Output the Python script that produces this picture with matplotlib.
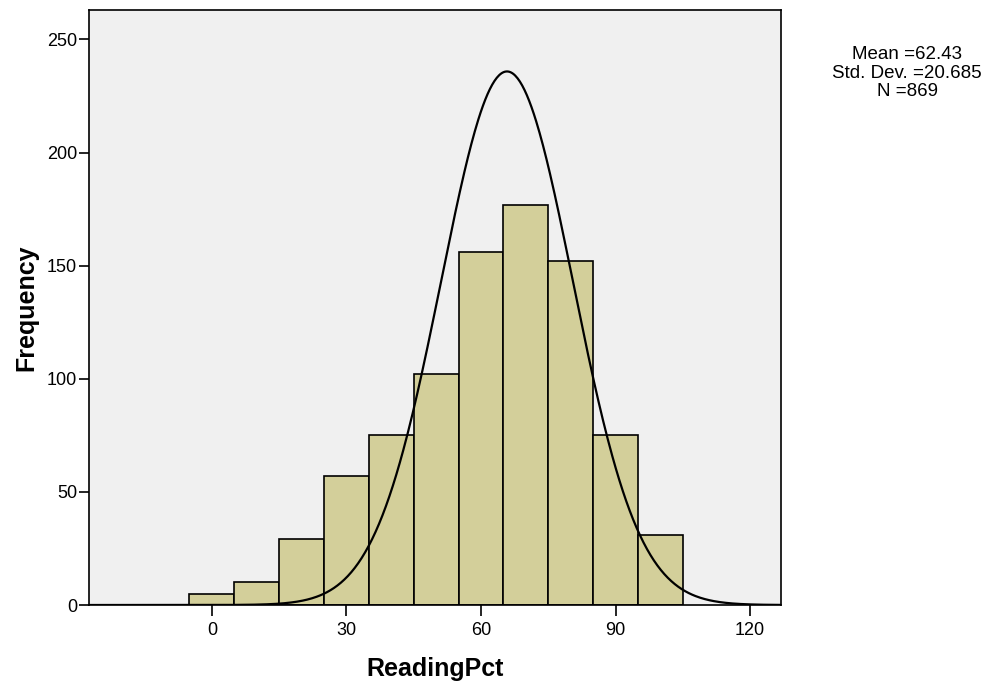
import numpy as np
import matplotlib
matplotlib.use("Agg")
import matplotlib.pyplot as plt

plt.rcParams['font.family'] = ['Liberation Sans', 'DejaVu Sans']

# Histogram data (bin edges and frequencies)
bin_edges = [-5, 5, 15, 25, 35, 45, 55, 65, 75, 85, 95, 105]
frequencies = [5, 10, 29, 57, 75, 102, 156, 177, 152, 75, 31]

# Normal curve as drawn
curve_mean = 65.8
curve_sd = 14.7
n_total = 869
bin_width = 10

stats_lines = ["Mean =62.43", "Std. Dev. =20.685", "N =869"]
x_ticks = [0, 30, 60, 90, 120]
y_ticks = [0, 50, 100, 150, 200, 250]

fig = plt.figure(figsize=(9.88, 6.91), dpi=100)
fig.patch.set_facecolor('white')
ax = fig.add_axes([89/988, 1-605/691, (781-89)/988, (605-10)/691])
ax.set_facecolor('#F0F0F0')

lefts = bin_edges[:-1]
widths = np.diff(bin_edges)
ax.bar(lefts, frequencies, width=widths, align='edge', color='#D3CF9A',
       edgecolor='black', linewidth=1.2, zorder=2)

xs = np.linspace(-27.4, 126.9, 600)
ys = n_total * bin_width / (curve_sd * np.sqrt(2*np.pi)) * np.exp(-0.5*((xs-curve_mean)/curve_sd)**2)
ax.plot(xs, ys, color='black', linewidth=1.6, zorder=3)

ax.set_xlim(-27.4, 126.9)
ax.set_ylim(0, 263)
ax.set_xticks(x_ticks)
ax.set_yticks(y_ticks)
ax.tick_params(axis='both', direction='out', labelsize=13, width=1.2, colors='black')
ax.tick_params(axis='x', length=8, pad=4)
ax.tick_params(axis='y', length=7.5, pad=1)
for s in ax.spines.values():
    s.set_linewidth(1.2)
    s.set_color('black')

ax.set_xlabel('ReadingPct', fontsize=18, fontweight='bold', labelpad=13)
ax.set_ylabel('Frequency', fontsize=18, fontweight='bold', labelpad=6)

for line, ypx in zip(stats_lines, [54.5, 73, 91.5]):
    fig.text(907/988, 1-ypx/691, line, ha='center', va='center', fontsize=13.5)

fig.savefig('out.png', dpi=100)
